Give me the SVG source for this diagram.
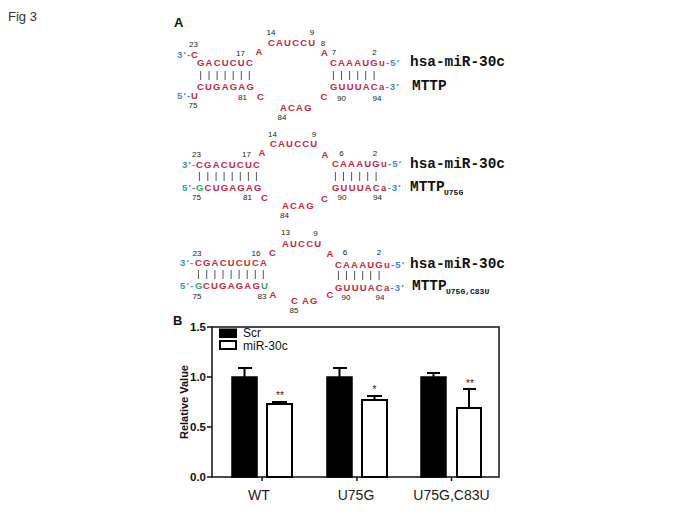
<svg xmlns="http://www.w3.org/2000/svg" width="685" height="513" viewBox="0 0 685 513">
<style>
.nt{font-family:"Liberation Sans",Arial,sans-serif;font-weight:bold;font-size:9.5px;fill:#c8283c;letter-spacing:1.2px}
.bl{fill:#3d8fc0}
.gr{fill:#2fa866}
.num{font-family:"Liberation Sans",Arial,sans-serif;font-size:8px;fill:#222;text-anchor:middle}
.ntm{font-family:"Liberation Sans",Arial,sans-serif;font-weight:bold;font-size:9.5px;fill:#c8283c;text-anchor:middle}
.lab{font-family:"Liberation Mono","Courier New",monospace;font-weight:bold;font-size:14.4px;fill:#111}
.sub{font-family:"Liberation Mono","Courier New",monospace;font-weight:bold;font-size:8px;fill:#111}
.bp line{stroke:#555;stroke-width:1}
.pl{font-family:"Liberation Sans",Arial,sans-serif;font-weight:bold;font-size:13px;fill:#111}
.tick{font-family:"Liberation Sans",Arial,sans-serif;font-weight:bold;font-size:11.5px;fill:#111;text-anchor:end}
.leg{font-family:"Liberation Sans",Arial,sans-serif;font-size:12px;fill:#111}
.xl{font-family:"Liberation Sans",Arial,sans-serif;font-size:14px;fill:#222;text-anchor:middle}
.star{font-family:"Liberation Sans",Arial,sans-serif;font-size:10px;fill:#222;text-anchor:middle}
.ax{stroke:#111;stroke-width:1.5;fill:none}
.bk{fill:#000;stroke:#000;stroke-width:1.5}
.wh{fill:#fff;stroke:#000;stroke-width:2}
.eb{stroke:#000;stroke-width:2;fill:none}
</style>
<rect width="685" height="513" fill="#fff"/>
<text x="8" y="21" font-family="Liberation Sans, Arial, sans-serif" font-size="13" fill="#333">Fig 3</text>
<text class="pl" x="174" y="27">A</text>

<g id="duplex-wt">
<text class="num" x="271" y="35">14</text>
<text class="num" x="312" y="35">9</text>
<text class="nt" x="268" y="46">CAUCCU</text>
<text class="num" x="323" y="46">8</text>
<text class="ntm" x="259" y="55">A</text>
<text class="num" x="193.5" y="47">23</text>
<text class="nt bl" x="177" y="58">3′-</text>
<text class="ntm" x="194.5" y="58">C</text>
<text class="num" x="240.5" y="56">17</text>
<text class="nt" x="197" y="66">GACUCUC</text>
<text class="nt" x="197" y="90">CUGAGAG</text>
<text class="nt bl" x="177" y="99">5′-</text>
<text class="ntm" x="194.5" y="99">U</text>
<text class="num" x="193" y="108">75</text>
<text class="num" x="242.5" y="100">81</text>
<text class="ntm" x="260.5" y="100">C</text>
<text class="nt" x="280" y="111">ACAG</text>
<text class="num" x="282" y="120">84</text>
<text class="ntm" x="324" y="100">C</text>
<text class="ntm" x="324.5" y="56">A</text>
<text class="num" x="334" y="55">7</text>
<text class="num" x="374.5" y="55">2</text>
<text class="nt" x="330" y="66">CAAAUGu<tspan class="bl">-5′</tspan></text>
<text class="nt" x="330" y="90">GUUUACa<tspan class="bl">-3′</tspan></text>
<text class="num" x="341.5" y="101">90</text>
<text class="num" x="377" y="101">94</text>
<text class="lab" x="410" y="66">hsa-miR-30c</text>
<text class="lab" x="412" y="90">MTTP</text>
</g>

<g id="duplex-u75g">
<text class="num" x="272.5" y="137">14</text>
<text class="num" x="314" y="137">9</text>
<text class="nt" x="270" y="147">CAUCCU</text>
<text class="ntm" x="262" y="156">A</text>
<text class="num" x="196.5" y="157">23</text>
<text class="num" x="246.5" y="157">17</text>
<text class="nt bl" x="182" y="168">3′-</text>
<text class="nt" x="196" y="168">CGACUCUC</text>
<text class="nt bl" x="182" y="191">5′-</text>
<text class="nt" x="196" y="191"><tspan class="gr">G</tspan>CUGAGAG</text>
<text class="num" x="196.5" y="200">75</text>
<text class="num" x="247.5" y="200">81</text>
<text class="ntm" x="264.5" y="201">C</text>
<text class="nt" x="282" y="209">ACAG</text>
<text class="num" x="284.5" y="218">84</text>
<text class="ntm" x="324.5" y="202">C</text>
<text class="ntm" x="325" y="158">A</text>
<text class="num" x="341.5" y="156">6</text>
<text class="num" x="375" y="156">2</text>
<text class="nt" x="332" y="167">CAAAUGu<tspan class="bl">-5′</tspan></text>
<text class="nt" x="332" y="191">GUUUACa<tspan class="bl">-3′</tspan></text>
<text class="num" x="342" y="200">90</text>
<text class="num" x="377.5" y="200">94</text>
<text class="lab" x="410" y="168">hsa-miR-30c</text>
<text class="lab" x="410" y="191">MTTP</text>
<text class="sub" x="444" y="195">U75G</text>
</g>

<g id="duplex-u75g-c83u">
<text class="num" x="285.5" y="235">13</text>
<text class="num" x="315.5" y="236">9</text>
<text class="nt" x="282" y="247">AUCCU</text>
<text class="ntm" x="272.5" y="256">C</text>
<text class="num" x="197" y="256">23</text>
<text class="num" x="256" y="256">16</text>
<text class="nt bl" x="180" y="266">3′-</text>
<text class="nt" x="195" y="266">C</text>
<text class="nt" x="203" y="266">GACUCUCA</text>
<text class="nt bl" x="180" y="289">5′-</text>
<text class="nt gr" x="195" y="289">G</text>
<text class="nt" x="203" y="289">CUGAGAG<tspan class="gr">U</tspan></text>
<text class="num" x="197" y="299">75</text>
<text class="num" x="262" y="299">83</text>
<text class="ntm" x="273" y="298">A</text>
<text class="ntm" x="294.5" y="304">C</text>
<text class="nt" x="302" y="304">AG</text>
<text class="num" x="294" y="313">85</text>
<text class="ntm" x="330" y="257">A</text>
<text class="num" x="345" y="255">6</text>
<text class="num" x="379" y="255">2</text>
<text class="nt" x="335" y="268">CAAAUGu<tspan class="bl">-5′</tspan></text>
<text class="nt" x="335" y="291">GUUUACa<tspan class="bl">-3′</tspan></text>
<text class="ntm" x="330" y="298">C</text>
<text class="num" x="346" y="300">90</text>
<text class="num" x="380" y="300">94</text>
<text class="lab" x="410" y="268">hsa-miR-30c</text>
<text class="lab" x="412" y="290">MTTP</text>
<text class="sub" x="446" y="294">U75G,C83U</text>
</g>

<g id="connectors" class="bp">
<line x1="200.7" y1="71" x2="200.7" y2="80"/><line x1="209" y1="71" x2="209" y2="80"/><line x1="217.1" y1="71" x2="217.1" y2="80"/><line x1="225.1" y1="71" x2="225.1" y2="80"/><line x1="233.2" y1="71" x2="233.2" y2="80"/><line x1="241.3" y1="71" x2="241.3" y2="80"/><line x1="249.3" y1="71" x2="249.3" y2="80"/>
<line x1="333.4" y1="71" x2="333.4" y2="80"/><line x1="341.5" y1="71" x2="341.5" y2="80"/><line x1="349.6" y1="71" x2="349.6" y2="80"/><line x1="357.7" y1="71" x2="357.7" y2="80"/><line x1="365.7" y1="71" x2="365.7" y2="80"/><line x1="374.1" y1="71" x2="374.1" y2="80"/>
<line x1="199.4" y1="172" x2="199.4" y2="181"/><line x1="207.8" y1="172" x2="207.8" y2="181"/><line x1="216.1" y1="172" x2="216.1" y2="181"/><line x1="224.1" y1="172" x2="224.1" y2="181"/><line x1="232.2" y1="172" x2="232.2" y2="181"/><line x1="240.3" y1="172" x2="240.3" y2="181"/><line x1="248.4" y1="172" x2="248.4" y2="181"/><line x1="256.4" y1="172" x2="256.4" y2="181"/>
<line x1="335.4" y1="172" x2="335.4" y2="181"/><line x1="343.5" y1="172" x2="343.5" y2="181"/><line x1="351.6" y1="172" x2="351.6" y2="181"/><line x1="359.7" y1="172" x2="359.7" y2="181"/><line x1="367.7" y1="172" x2="367.7" y2="181"/><line x1="376.1" y1="172" x2="376.1" y2="181"/>
<line x1="198.4" y1="270" x2="198.4" y2="279"/><line x1="206.7" y1="270" x2="206.7" y2="279"/><line x1="214.9" y1="270" x2="214.9" y2="279"/><line x1="223" y1="270" x2="223" y2="279"/><line x1="231.1" y1="270" x2="231.1" y2="279"/><line x1="239.1" y1="270" x2="239.1" y2="279"/><line x1="247.2" y1="270" x2="247.2" y2="279"/><line x1="255.3" y1="270" x2="255.3" y2="279"/><line x1="263.3" y1="270" x2="263.3" y2="279"/>
<line x1="338.4" y1="271" x2="338.4" y2="280"/><line x1="346.5" y1="271" x2="346.5" y2="280"/><line x1="354.6" y1="271" x2="354.6" y2="280"/><line x1="362.7" y1="271" x2="362.7" y2="280"/><line x1="370.7" y1="271" x2="370.7" y2="280"/><line x1="379.1" y1="271" x2="379.1" y2="280"/>
</g>

<g id="chart">
<text class="pl" x="173" y="325">B</text>
<rect class="ax" x="212" y="327" width="287" height="150"/>
<line class="ax" x1="207" y1="327" x2="212" y2="327"/>
<line class="ax" x1="207" y1="377" x2="212" y2="377"/>
<line class="ax" x1="207" y1="427" x2="212" y2="427"/>
<line class="ax" x1="207" y1="477" x2="212" y2="477"/>
<line class="ax" x1="262" y1="477" x2="262" y2="481"/>
<line class="ax" x1="357" y1="477" x2="357" y2="481"/>
<line class="ax" x1="451.5" y1="477" x2="451.5" y2="481"/>
<text class="tick" x="206" y="331">1.5</text>
<text class="tick" x="206" y="381">1.0</text>
<text class="tick" x="206" y="431">0.5</text>
<text class="tick" x="206" y="481">0.0</text>
<text transform="translate(188,402) rotate(-90)" text-anchor="middle" font-family="Liberation Sans, Arial, sans-serif" font-weight="bold" font-size="11" fill="#111">Relative Value</text>
<rect x="219" y="328.5" width="18" height="9.5" fill="#000"/>
<text class="leg" x="243" y="336.5">Scr</text>
<rect x="220" y="341" width="16" height="8" fill="#fff" stroke="#000" stroke-width="2"/>
<text class="leg" x="243" y="350">miR-30c</text>
<line class="eb" x1="244.5" y1="377" x2="244.5" y2="368"/><line class="eb" x1="238" y1="368" x2="252" y2="368"/>
<rect class="bk" x="232" y="377" width="25" height="100"/>
<line class="eb" x1="279.5" y1="404" x2="279.5" y2="402"/><line class="eb" x1="272" y1="402" x2="287" y2="402"/>
<rect class="wh" x="267" y="404" width="25" height="73"/>
<text class="star" x="280" y="399">**</text>
<line class="eb" x1="339.5" y1="377" x2="339.5" y2="368"/><line class="eb" x1="333" y1="368" x2="347" y2="368"/>
<rect class="bk" x="327" y="377" width="25" height="100"/>
<line class="eb" x1="374.5" y1="400" x2="374.5" y2="396"/><line class="eb" x1="367" y1="396" x2="382" y2="396"/>
<rect class="wh" x="362" y="400" width="25" height="77"/>
<text class="star" x="374.5" y="393">*</text>
<line class="eb" x1="433.5" y1="377" x2="433.5" y2="373"/><line class="eb" x1="427" y1="373" x2="440" y2="373"/>
<rect class="bk" x="421" y="377" width="25" height="100"/>
<line class="eb" x1="469" y1="408" x2="469" y2="389"/><line class="eb" x1="463" y1="389" x2="476" y2="389"/>
<rect class="wh" x="457" y="408" width="24" height="69"/>
<text class="star" x="470" y="387">**</text>
<text class="xl" x="259" y="500">WT</text>
<text class="xl" x="356" y="500">U75G</text>
<text class="xl" x="451.5" y="500">U75G,C83U</text>
</g>
</svg>
